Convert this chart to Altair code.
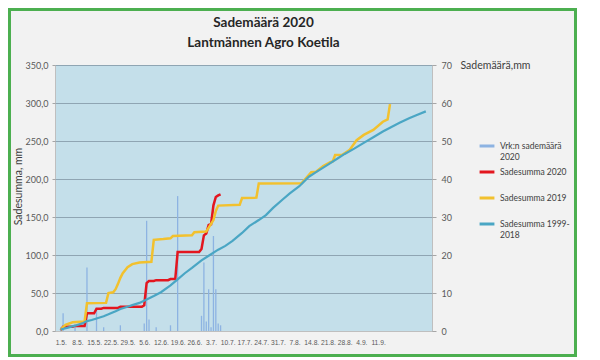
import altair as alt
import pandas as pd
import json

# ---------------- data ----------------
series_names = ["Vrk:n sademäärä 2020", "Sadesumma 2020", "Sadesumma 2019", "Sadesumma 1999-2018"]
series_colors = ["#8db3e2", "#e3161f", "#f2c12e", "#4aa6c4"]

# x axis tick labels (every 7th day from 1.5.)
tick_labels = ["1.5.", "8.5.", "15.5.", "22.5.", "29.5.", "5.6.", "12.6.", "19.6.", "26.6.", "3.7.",
               "10.7.", "17.7.", "24.7.", "31.7.", "7.8.", "14.8.", "21.8.", "28.8.", "4.9.", "11.9."]

# daily rainfall 2020 (day index from 1.5.)
rain_days = [0, 1, 6, 11, 15, 18, 25, 35, 36, 37, 40, 46, 49, 59, 60, 61, 62, 63, 64, 65, 66, 67]
rain_mm = [1, 4.7, 1, 16.7, 6, 1, 1.5, 2, 29, 3, 1, 1.5, 35.5, 4, 18, 2.5, 11, 1, 25, 11, 2, 1.5]
last_day_2020 = 67

# cumulative 2019
y19_days = [0, 1, 2, 5, 10, 11, 19, 20, 22, 23, 24, 25, 26, 27, 28, 30, 33, 38, 39, 43, 46, 47, 55, 56, 61,
            62, 63, 64, 65, 66, 75, 76, 82, 83, 101, 105, 107, 110, 113, 114, 115, 118, 121, 124, 127,
            131, 135, 137, 138]
y19_vals = [1.5, 5, 8, 11.5, 12.5, 36.5, 37, 50, 51, 55, 62, 70, 76, 80, 84, 88, 90, 91, 120, 121, 122, 125,
            126, 130, 131, 136, 141, 146, 158, 165, 166, 175, 175.5, 194, 194.5, 209, 209.5, 217, 222, 223,
            231.6, 232, 238, 251, 258, 264.5, 275.4, 278.5, 298.5]

# cumulative average 1999-2018
avg_days = [0, 3, 6, 9, 11, 13, 15, 18, 20, 23, 25, 28, 30, 33, 36, 39, 42, 46, 49, 52, 55, 59, 62, 66, 69,
            72, 76, 79, 83, 86, 89, 93, 96, 100, 104, 107, 109, 112, 116, 119, 123, 127, 131, 135, 139,
            142, 146, 149, 153]
avg_vals = [2, 4.5, 7, 10, 13, 14.5, 16.5, 19.5, 22, 26, 29, 32, 34, 37, 41.5, 46, 51, 60, 68, 76, 83, 93,
            99, 107, 112, 118.5, 129, 138, 146, 152.5, 162, 173, 181, 190.5, 203, 209, 213, 219, 227, 233,
            240, 247.5, 255, 262.5, 269, 274, 280, 284, 289]

# ---------------- tables ----------------
rain_df = pd.DataFrame({"day": rain_days, "mm": rain_mm, "series": series_names[0]})
daily = pd.Series(0.0, index=range(0, last_day_2020 + 1))
daily[rain_days] = rain_mm
cum2020 = daily.cumsum()
red_df = pd.DataFrame({"day": list(cum2020.index), "value": list(cum2020.values), "series": series_names[1]})
y19_df = pd.DataFrame({"day": y19_days, "value": y19_vals, "series": series_names[2]})
avg_df = pd.DataFrame({"day": avg_days, "value": avg_vals, "series": series_names[3]})

W, H = 377, 266
PAD = {"left": 47, "top": 57, "right": 145, "bottom": 26}
FONT = "Lato"
NARROW = "'Liberation Sans', Arial, sans-serif"
TXT = "#595959"

legend_label_expr = (
    "datum.label == 'Vrk:n sademäärä 2020' ? ['Vrk:n sademäärä', '2020'] : "
    "datum.label == 'Sadesumma 1999-2018' ? ['Sadesumma 1999-', '2018'] : datum.label"
)
legend = alt.Legend(
    title=None, orient="none", legendX=423, legendY=72, direction="vertical",
    symbolType="stroke", symbolStrokeWidth=3, symbolSize=220,
    labelFont=FONT, labelFontSize=8.5, labelColor="#404040", labelExpr=legend_label_expr,
    rowPadding=2, gridAlign="all", labelLimit=200,
)
color = alt.Color("series:N", scale=alt.Scale(domain=series_names, range=series_colors), legend=legend)

x_axis = alt.Axis(
    values=[7 * i for i in range(len(tick_labels))],
    labelExpr=json.dumps(tick_labels, ensure_ascii=False) + "[round(datum.value / 7)]",
    title=None, grid=False, ticks=False, labelPadding=8, labelFont=NARROW, labelFontSize=6.7,
    labelColor=TXT, domainColor="#bfbfbf", labelOverlap=False, labelFlush=False,
)
x_enc = alt.X("day:Q", scale=alt.Scale(domain=[-0.3, 153.5], nice=False, zero=False), axis=x_axis)

bars = alt.Chart(rain_df).mark_bar(size=1.3).encode(
    x=x_enc,
    y=alt.Y("mm:Q", scale=alt.Scale(domain=[0, 70], nice=False),
            axis=alt.Axis(orient="right", values=list(range(0, 71, 10)), format="d", grid=False,
                          tickSize=4, tickColor="#a6a6a6", domain=False, labelPadding=5,
                          labelFont=FONT, labelFontSize=9, labelColor=TXT,
                          title="Sademäärä,mm", titleAngle=0, titleX=28, titleY=0,
                          titleAlign="left", titleBaseline="middle", titleFont=FONT,
                          titleFontSize=10.5, titleFontWeight="normal", titleColor="#404040")),
    color=color,
)

y_left = alt.Y("value:Q", scale=alt.Scale(domain=[0, 350], nice=False),
               axis=alt.Axis(orient="left", values=list(range(0, 351, 50)),
                             labelExpr="replace(format(datum.value, '.1f'), '.', ',')",
                             grid=True, gridColor="#8fa5b3", gridWidth=1,
                             tickSize=3, tickColor="#a6a6a6", domain=False, labelPadding=4,
                             labelFont=FONT, labelFontSize=9, labelColor=TXT,
                             title="Sadesumma, mm", titleAngle=270, titleX=-37, titleY=121,
                             titleAlign="center", titleBaseline="middle", titleFont=FONT,
                             titleFontSize=10.5, titleFontWeight="normal", titleColor="#404040"))

line_red = alt.Chart(red_df).mark_line(strokeWidth=2.5).encode(x=x_enc, y=y_left, color=color)
line_y19 = alt.Chart(y19_df).mark_line(strokeWidth=2.5).encode(x=x_enc, y=y_left, color=color)
line_avg = alt.Chart(avg_df).mark_line(strokeWidth=2.2).encode(x=x_enc, y=y_left, color=color)
lines = alt.layer(line_red, line_y19, line_avg)

frame = alt.Chart(alt.Data(values=[{"k": 1}])).mark_rect(
    fill=None, stroke="#4caf50", strokeWidth=3
).encode(
    x=alt.value(-PAD["left"] + 1.5), x2=alt.value(W + PAD["right"] - 1.5),
    y=alt.value(-PAD["top"] + 1.5), y2=alt.value(H + PAD["bottom"] - 1.5),
)

chart = alt.layer(bars, lines, frame).resolve_scale(y="independent").properties(
    width=W, height=H,
    autosize=alt.AutoSizeParams(type="none"),
    padding=PAD,
    background="#f2f2f2",
    title=alt.Title(["Sademäärä 2020", "Lantmännen Agro Koetila"], font=FONT, fontSize=13.5,
                    fontWeight="bold", color="#262626", anchor="middle", dx=20, offset=0, dy=41,
                    lineHeight=20),
).configure_view(fill="#c4dfea", stroke="#bfbfbf", strokeWidth=1)

chart.save("out.html", embed_options={"renderer": "svg", "actions": False})
